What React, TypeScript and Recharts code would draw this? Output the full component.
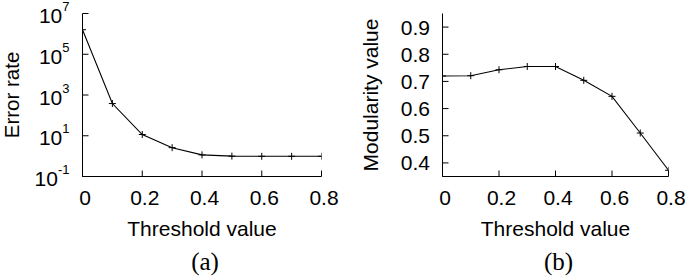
import React from 'react'
import { LineChart, Line, XAxis, YAxis } from 'recharts'

// threshold sweep, shared by both panels
const thresholds = [0, 0.1, 0.2, 0.3, 0.4, 0.5, 0.6, 0.7, 0.8]
const errorRates = [1.6e6, 380, 11.5, 2.6, 1.15, 1.0, 0.98, 0.98, 0.98]
const modularity = [0.72, 0.721, 0.743, 0.755, 0.755, 0.704, 0.645, 0.51, 0.373]

const thresholdTicks = [0, 0.2, 0.4, 0.6, 0.8]
const errorTicks = [0.1, 10, 1000, 100000, 10000000]
const errorExponents = ['-1', '1', '3', '5', '7']
const modularityTicks = [0.4, 0.5, 0.6, 0.7, 0.8, 0.9]

const errorData = thresholds.map((t, i) => ({ t, v: errorRates[i] }))
const modularityData = thresholds.map((t, i) => ({ t, v: modularity[i] }))

const SANS = '"Liberation Sans", Arial, sans-serif'
const SERIF = '"Liberation Serif", "Times New Roman", serif'
const INK = '#000'
const TICK_LEN = 6

const fmtThreshold = (v: number) => (v === 0 ? '0' : String(v))

function BottomTick({ x, y, payload }: any) {
  return (
    <g>
      <line x1={x} x2={x} y1={y} y2={y - TICK_LEN} stroke={INK} />
      <text x={x + 2.5} y={y + 28.5} textAnchor="middle" fontFamily={SANS} fontSize={21} fill={INK}>
        {fmtThreshold(payload.value)}
      </text>
    </g>
  )
}

function TopTick({ x, y }: any) {
  return <line x1={x} x2={x} y1={y} y2={y + TICK_LEN} stroke={INK} />
}

function RightTick({ x, y }: any) {
  return <line x1={x} x2={x - TICK_LEN} y1={y} y2={y} stroke={INK} />
}

function PowerTick({ x, y, payload }: any) {
  const exp = errorExponents[errorTicks.indexOf(payload.value)]
  return (
    <g>
      <line x1={x} x2={x + TICK_LEN} y1={y} y2={y} stroke={INK} />
      <text x={x - 13} y={y + 9.5} textAnchor="end" fontFamily={SANS} fontSize={21} fill={INK}>
        10
        <tspan dy={-12} fontSize={13}>
          {exp}
        </tspan>
      </text>
    </g>
  )
}

function PlainTick({ x, y, payload }: any) {
  return (
    <g>
      <line x1={x} x2={x + TICK_LEN} y1={y} y2={y} stroke={INK} />
      <text x={x - 12.5} y={y + 7.5} textAnchor="end" fontFamily={SANS} fontSize={21} fill={INK}>
        {payload.value.toFixed(1)}
      </text>
    </g>
  )
}

function PlusDot({ cx, cy, index }: any) {
  return (
    <path
      key={index}
      d={`M${cx - 3.5},${cy}H${cx + 3.5}M${cx},${cy - 3.5}V${cy + 3.5}`}
      stroke={INK}
      strokeWidth={1}
    />
  )
}

const xTitle = (caption: string) => ({ viewBox }: any) => {
  const cx = viewBox.x + viewBox.width / 2
  return (
    <g>
      <text x={cx} y={viewBox.y + 59} textAnchor="middle" fontFamily={SANS} fontSize={21} fill={INK}>
        Threshold value
      </text>
      <text x={cx + 3} y={viewBox.y + 93.5} textAnchor="middle" fontFamily={SERIF} fontSize={25} fill={INK}>
        {caption}
      </text>
    </g>
  )
}

const yTitle = (title: string, baseline: number, size = 21) => ({ viewBox }: any) => {
  const x = viewBox.x + baseline
  const y = viewBox.y + viewBox.height / 2
  return (
    <text
      x={x}
      y={y}
      transform={`rotate(-90 ${x} ${y})`}
      textAnchor="middle"
      fontFamily={SANS}
      fontSize={size}
      fill={INK}
    >
      {title}
    </text>
  )
}

const axisLine = { stroke: INK, strokeWidth: 1 }

function ErrorPanel() {
  return (
    <LineChart width={340} height={277} data={errorData} margin={{ top: 13.5, right: 18.5, bottom: 0, left: 0 }}>
      <XAxis
        dataKey="t"
        type="number"
        domain={[0, 0.8]}
        ticks={thresholdTicks}
        interval={0}
        height={100.5}
        tickSize={0}
        tickMargin={0}
        tickLine={false}
        axisLine={axisLine}
        tick={<BottomTick />}
        label={{ content: xTitle('(a)') }}
        allowDataOverflow
      />
      <XAxis
        xAxisId="top"
        orientation="top"
        type="number"
        domain={[0, 0.8]}
        ticks={thresholdTicks}
        interval={0}
        height={0}
        tickSize={0}
        tickMargin={0}
        tickLine={false}
        axisLine={axisLine}
        tick={<TopTick />}
        allowDataOverflow
      />
      <YAxis
        type="number"
        scale="log"
        domain={[0.1, 1e7]}
        ticks={errorTicks}
        interval={0}
        width={82.5}
        tickSize={0}
        tickMargin={0}
        tickLine={false}
        axisLine={axisLine}
        tick={<PowerTick />}
        label={{ content: yTitle('Error rate', 18.7, 20.5) }}
        allowDataOverflow
      />
      <YAxis
        yAxisId="right"
        orientation="right"
        type="number"
        scale="log"
        domain={[0.1, 1e7]}
        ticks={errorTicks}
        interval={0}
        width={0}
        tickSize={0}
        tickMargin={0}
        tickLine={false}
        axisLine={axisLine}
        tick={<RightTick />}
        allowDataOverflow
      />
      <Line
        dataKey="v"
        stroke={INK}
        strokeWidth={1.1}
        dot={PlusDot}
        activeDot={false}
        isAnimationActive={false}
      />
    </LineChart>
  )
}

function ModularityPanel() {
  return (
    <LineChart width={345} height={277} data={modularityData} margin={{ top: 13.5, right: 16.5, bottom: 0, left: 0 }}>
      <XAxis
        dataKey="t"
        type="number"
        domain={[0, 0.8]}
        ticks={thresholdTicks}
        interval={0}
        height={100.5}
        tickSize={0}
        tickMargin={0}
        tickLine={false}
        axisLine={axisLine}
        tick={<BottomTick />}
        label={{ content: xTitle('(b)') }}
        allowDataOverflow
      />
      <XAxis
        xAxisId="top"
        orientation="top"
        type="number"
        domain={[0, 0.8]}
        ticks={thresholdTicks}
        interval={0}
        height={0}
        tickSize={0}
        tickMargin={0}
        tickLine={false}
        axisLine={axisLine}
        tick={<TopTick />}
        allowDataOverflow
      />
      <YAxis
        type="number"
        domain={[0.35, 0.95]}
        ticks={modularityTicks}
        interval={0}
        width={102.5}
        tickSize={0}
        tickMargin={0}
        tickLine={false}
        axisLine={axisLine}
        tick={<PlainTick />}
        label={{ content: yTitle('Modularity value', 38) }}
        allowDataOverflow
      />
      <YAxis
        yAxisId="right"
        orientation="right"
        type="number"
        domain={[0.35, 0.95]}
        ticks={modularityTicks}
        interval={0}
        width={0}
        tickSize={0}
        tickMargin={0}
        tickLine={false}
        axisLine={axisLine}
        tick={<RightTick />}
        allowDataOverflow
      />
      <Line
        dataKey="v"
        stroke={INK}
        strokeWidth={1.1}
        dot={PlusDot}
        activeDot={false}
        isAnimationActive={false}
      />
    </LineChart>
  )
}

export default function App() {
  return (
    <div style={{ position: 'absolute', left: 0, top: 0, width: 685, height: 277, background: '#fff' }}>
      <div style={{ position: 'absolute', left: 0, top: 0 }}>
        <ErrorPanel />
      </div>
      <div style={{ position: 'absolute', left: 340, top: 0 }}>
        <ModularityPanel />
      </div>
    </div>
  )
}
